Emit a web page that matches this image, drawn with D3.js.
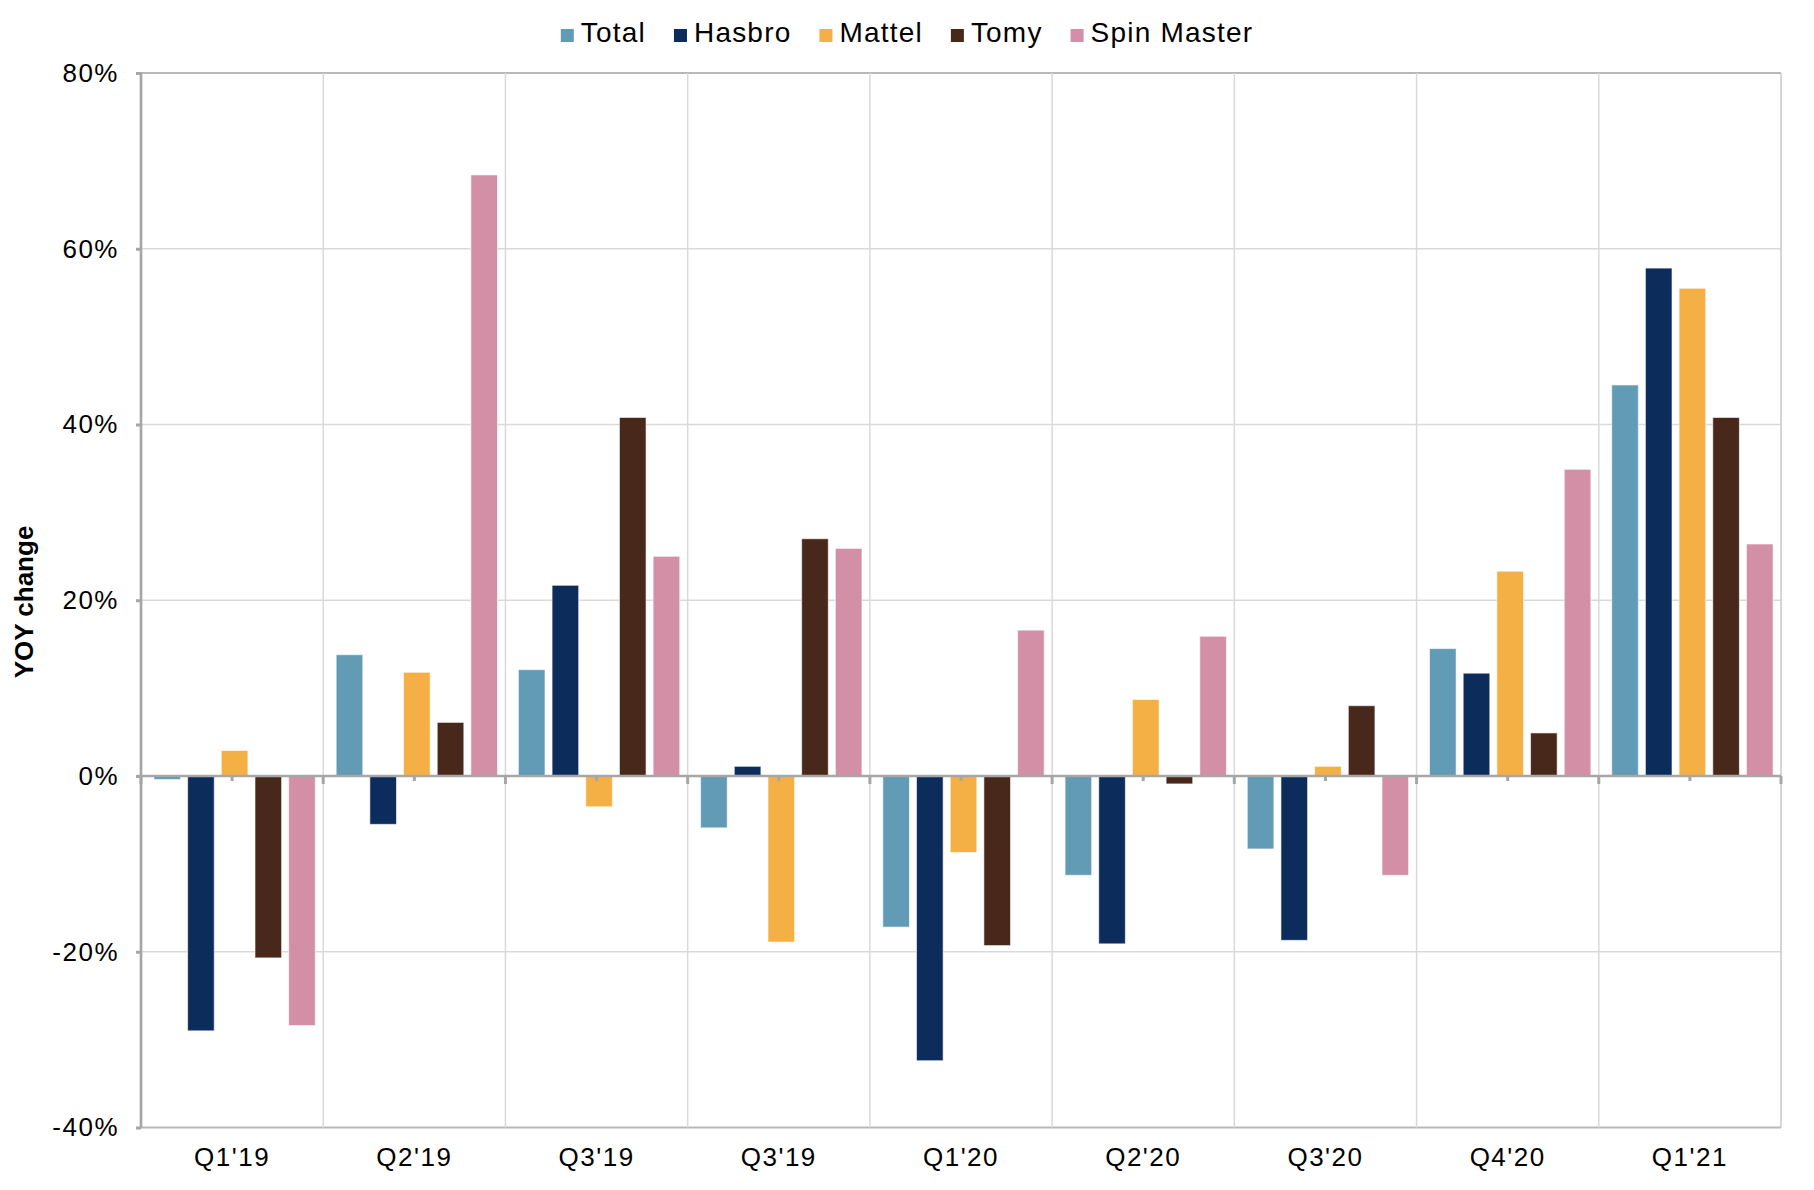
<!DOCTYPE html>
<html lang="en">
<head>
  <meta charset="UTF-8" />
  <title>YOY change by quarter</title>
  <style>
    body {
      margin: 0;
      background-color: white;
    }
    svg text {
      font-family: "Liberation Sans", Arial, sans-serif;
      fill: #000;
    }
  </style>
</head>
<body>
  <svg width="1814" height="1190"></svg>

  <script src="https://d3js.org/d3.v7.min.js"></script>
  <script>
    const quarters = ["Q1'19", "Q2'19", "Q3'19", "Q3'19", "Q1'20", "Q2'20", "Q3'20", "Q4'20", "Q1'21"];
    const seriesNames = ["Total", "Hasbro", "Mattel", "Tomy", "Spin Master"];
    const colors = ["#629bb6", "#0c2d5b", "#f4af45", "#47281b", "#d38fa5"];

    const total      = [-0.4, 13.8, 12.1, -5.9, -17.2, -11.3,  -8.3, 14.5, 44.5];
    const hasbro     = [-29.0, -5.5, 21.7,  1.1, -32.4, -19.1, -18.7, 11.7, 57.8];
    const mattel     = [ 2.9, 11.8, -3.5, -18.9, -8.7,   8.7,   1.1, 23.3, 55.5];
    const tomy       = [-20.7, 6.1, 40.8, 27.0, -19.3,  -0.9,   8.0,  4.9, 40.8];
    const spinMaster = [-28.4, 68.4, 25.0, 25.9, 16.6,  15.9, -11.3, 34.9, 26.4];

    const yTicks = [-40, -20, 0, 20, 40, 60, 80];

    const seriesValues = [total, hasbro, mattel, tomy, spinMaster];

    const plotLeft = 141, plotRight = 1781, plotTop = 73, plotBottom = 1127.5;

    const svg = d3.select("svg");

    const y = d3.scaleLinear().domain([-40, 80]).range([plotBottom, plotTop]);

    // quarter labels repeat, so the band scale works on indexes
    const x0 = d3.scaleBand()
      .domain(d3.range(quarters.length))
      .range([plotLeft, plotRight]);

    const x1 = d3.scaleBand()
      .domain(d3.range(seriesNames.length))
      .range([0, x0.bandwidth()])
      .paddingInner(0.21)
      .paddingOuter(0.31)
      .align(0.62);

    // horizontal gridlines
    svg.append("g")
      .selectAll("line")
      .data(yTicks)
      .join("line")
        .attr("x1", plotLeft)
        .attr("x2", plotRight)
        .attr("y1", d => y(d))
        .attr("y2", d => y(d))
        .attr("stroke", d => (d === 80 || d === -40) ? "#b8b8b8" : "#d9d9d9")
        .attr("stroke-width", d => (d === 80 || d === -40) ? 2 : 1.3);

    // vertical gridlines at category boundaries
    const bounds = d3.range(quarters.length + 1).map(i => plotLeft + i * x0.step());
    svg.append("g")
      .selectAll("line")
      .data(bounds.slice(1))
      .join("line")
        .attr("x1", d => d)
        .attr("x2", d => d)
        .attr("y1", plotTop)
        .attr("y2", plotBottom)
        .attr("stroke", (d, i) => i === quarters.length - 1 ? "#c8c8c8" : "#d9d9d9")
        .attr("stroke-width", 1.5);

    // bars
    const cells = [];
    quarters.forEach((q, qi) => {
      seriesValues.forEach((vals, si) => cells.push({ qi, si, v: vals[qi] }));
    });

    svg.append("g")
      .selectAll("rect")
      .data(cells)
      .join("rect")
        .attr("x", d => x0(d.qi) + x1(d.si))
        .attr("width", x1.bandwidth())
        .attr("y", d => y(Math.max(0, d.v)))
        .attr("height", d => Math.abs(y(d.v) - y(0)))
        .attr("fill", d => colors[d.si])
        .attr("stroke", "white")
        .attr("stroke-opacity", 0.6)
        .attr("stroke-width", 1);

    // y axis
    const yAxis = svg.append("g")
      .attr("transform", `translate(${plotLeft},0)`)
      .call(d3.axisLeft(y)
        .tickValues(yTicks)
        .tickFormat(d => d + "%")
        .tickSize(5)
        .tickPadding(17));
    yAxis.select(".domain").remove();
    yAxis.selectAll(".tick line").attr("stroke", "#a6a6a6").attr("stroke-width", 3);
    yAxis.selectAll(".tick text")
      .style("font-size", "26px")
      .style("letter-spacing", "1.5px")
      .style("font-family", "'Liberation Sans', Arial, sans-serif");
    yAxis.append("line")
      .attr("y1", plotTop)
      .attr("y2", plotBottom)
      .attr("stroke", "#a6a6a6")
      .attr("stroke-width", 2.7);

    // zero line with ticks
    const zero = svg.append("g");
    zero.append("line")
      .attr("x1", plotLeft - 4)
      .attr("x2", plotRight)
      .attr("y1", y(0))
      .attr("y2", y(0))
      .attr("stroke", "#a6a6a6")
      .attr("stroke-width", 2.7);
    zero.selectAll("line.major")
      .data(bounds)
      .join("line")
        .attr("class", "major")
        .attr("x1", d => d)
        .attr("x2", d => d)
        .attr("y1", y(0))
        .attr("y2", y(0) + 8)
        .attr("stroke", "#a6a6a6")
        .attr("stroke-width", 3);
    zero.selectAll("line.minor")
      .data(d3.range(quarters.length))
      .join("line")
        .attr("class", "minor")
        .attr("x1", d => x0(d) + x0.bandwidth() / 2)
        .attr("x2", d => x0(d) + x0.bandwidth() / 2)
        .attr("y1", y(0))
        .attr("y2", y(0) + 5)
        .attr("stroke", "#a6a6a6")
        .attr("stroke-width", 3);

    // x axis labels
    const xAxis = svg.append("g")
      .attr("transform", `translate(0,${plotBottom})`)
      .call(d3.axisBottom(x0)
        .tickFormat(i => quarters[i])
        .tickSize(0)
        .tickPadding(20));
    xAxis.select(".domain").remove();
    xAxis.selectAll(".tick text")
      .style("font-size", "26px")
      .style("letter-spacing", "1.5px")
      .style("font-family", "'Liberation Sans', Arial, sans-serif");

    // y axis title
    svg.append("text")
      .attr("transform", "translate(24,602) rotate(-90)")
      .attr("text-anchor", "middle")
      .attr("dy", "0.35em")
      .style("font-size", "26px")
      .style("font-weight", "bold")
      .text("YOY change");

    // legend
    const legend = svg.append("g");
    const items = legend.selectAll("g")
      .data(seriesNames)
      .join("g");
    items.append("rect")
      .attr("width", 13)
      .attr("height", 13)
      .attr("y", 29)
      .attr("fill", (d, i) => colors[i]);
    items.append("text")
      .attr("x", 20)
      .attr("y", 42)
      .style("font-size", "28px")
      .style("letter-spacing", "1.2px")
      .text(d => d);

    let cx = 0;
    items.each(function () {
      const w = 20 + d3.select(this).select("text").node().getComputedTextLength();
      d3.select(this).attr("transform", `translate(${cx},0)`);
      cx += w + 28;
    });
    const legendWidth = cx - 28;
    legend.attr("transform", `translate(${907 - legendWidth / 2},0)`);
  </script>
</body>
</html>
